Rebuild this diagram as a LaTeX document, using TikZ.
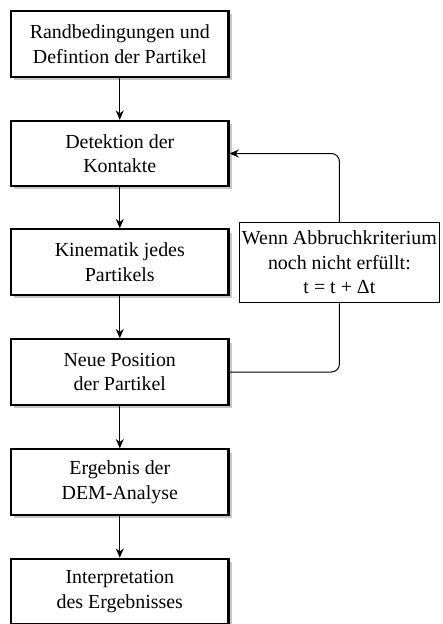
\documentclass[tikz,border=0pt]{standalone}
\usepackage{fontspec}
\setmainfont{Liberation Serif}
\usetikzlibrary{arrows.meta,shadows}

\begin{document}
\begin{tikzpicture}[
  >={Stealth[length=7pt,width=6pt]},
  every node/.style={font=\fontsize{15}{18.5}\selectfont},
  step node/.style={rectangle,draw,line width=1.6pt,minimum width=5.75cm,minimum height=1.73cm,
    align=center,inner sep=2pt,fill=white,
    drop shadow={shadow xshift=2.4pt,shadow yshift=-2.4pt,fill=black!22,opacity=1}},
  note node/.style={rectangle,draw,line width=0.75pt,minimum width=5.25cm,minimum height=2.13cm,
    align=center,inner sep=2pt,fill=white},
  flow/.style={->,line width=0.75pt},
]
\useasboundingbox (0,0) rectangle (11.695,16.51);
\node[step node] (rand) at (3.169,15.346) {Randbedingungen und\\Defintion der Partikel};
\node[step node] (detek) at (3.169,12.448) {Detektion der\\Kontakte};
\node[step node] (kinem) at (3.169,9.577) {Kinematik jedes\\Partikels};
\node[step node] (neupos) at (3.169,6.667) {Neue Position\\der Partikel};
\node[step node] (ergeb) at (3.169,3.756) {Ergebnis der\\DEM-Analyse};
\node[step node] (interp) at (3.169,0.86) {Interpretation\\des Ergebnisses};
\node[note node] (abbruch) at (8.98,9.564) {Wenn Abbruchkriterium\\noch nicht erfüllt:\\t = t + Δt};
\draw[flow] (rand) -- (detek);
\draw[flow] (detek) -- (kinem);
\draw[flow] (kinem) -- (neupos);
\draw[flow] (neupos) -- (ergeb);
\draw[flow] (ergeb) -- (interp);
% Rueckfuehrung
\draw[line width=0.75pt,rounded corners=6pt] (neupos.east) -| (abbruch.south);
\draw[flow,rounded corners=6pt] (abbruch.north) |- (detek.east);
\end{tikzpicture}
\end{document}
